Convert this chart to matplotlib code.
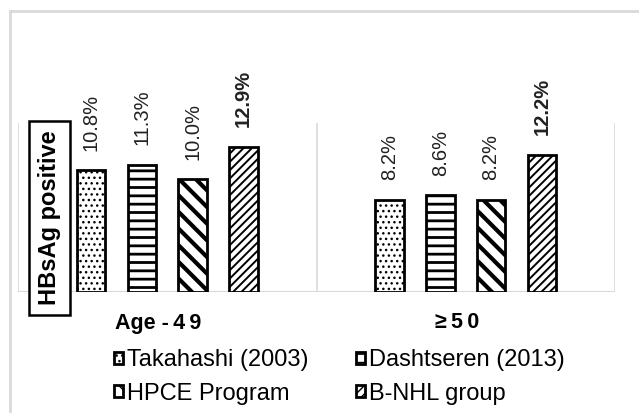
import numpy as np
import matplotlib
matplotlib.use("Agg")
import matplotlib.pyplot as plt
from matplotlib.lines import Line2D

plt.rcParams["font.family"] = ["Liberation Sans", "DejaVu Sans"]

groups = ["Age -\u20094\u20099", "≥\u20095\u20090"]
series = ["Takahashi (2003)", "Dashtseren (2013)", "HPCE Program", "B-NHL group"]
values = [
    [10.8, 8.2],
    [11.3, 8.6],
    [10.0, 8.2],
    [12.9, 12.2],
]
hatches = ["...", "--", "\\\\", "////"]
hatch_lw = [1.0, 2.0, 3.0, 1.4]

fig = plt.figure(figsize=(6.39, 4.13), dpi=100)
ax = fig.add_axes([18 / 639, 1 - 292 / 413, 597 / 639, 169 / 413])

x = np.array([0.5, 1.5])
step, width = 0.17, 0.095
bars = []
for i, (name, vals) in enumerate(zip(series, values)):
    with plt.rc_context({"hatch.linewidth": hatch_lw[i]}):
        b = ax.bar(x + (i - 1.5) * step, vals, width, color="white",
                   edgecolor="black", linewidth=2, hatch=hatches[i], label=name)
    for p in b:
        if hasattr(p, "set_hatch_linewidth"):
            p.set_hatch_linewidth(hatch_lw[i])
    bars.append(b)
    for xi, v in zip(x + (i - 1.5) * step, vals):
        ax.annotate(f"{v:.1f}%", (xi, v), xytext=(0, 14), textcoords="offset points",
                    rotation=90, ha="center", va="bottom", fontsize=14.5,
                    fontweight="bold" if i == 3 else "normal", color="#222222")

ax.set_xlim(0, 2)
ax.set_ylim(0, 15)
for s in ax.spines.values():
    s.set_visible(False)
ax.set_xticks([])
ax.set_yticks([])
grid = "#d9d9d9"
ax.axhline(0, color=grid, lw=1.5, zorder=0)
for xv in [0, 1, 2]:
    ax.axvline(xv, color=grid, lw=1.2, zorder=0)

# category labels, a little left of the group centres
for xc, g in zip(x - 0.03, groups):
    ax.annotate(g, (xc, 0), xytext=(0, -31), textcoords="offset pixels",
                ha="center", va="center", fontsize=15.5, fontweight="bold")

# boxed y label
fig.text(49.5 / 639, 1 - 218 / 413, "HBsAg positive", rotation=90, ha="center", va="center",
         fontsize=17, fontweight="bold",
         bbox=dict(boxstyle="square,pad=0.4", facecolor="white", edgecolor="black", lw=1.8))

handles = [bars[0], bars[2], bars[1], bars[3]]
labels = [series[0], series[2], series[1], series[3]]
fig.legend(handles, labels, ncol=2, loc="upper left", frameon=False,
           bbox_to_anchor=(114 / 639, 1 - 349 / 413), fontsize=17,
           handlelength=0.4, handleheight=0.4, handletextpad=0.15,
           columnspacing=2.0, labelspacing=0.5, borderpad=0, borderaxespad=0)

# outer frame
fig.add_artist(Line2D([9.5 / 639, 9.5 / 639], [0, 1 - 11 / 413], color="#d9d9d9", lw=2))
fig.add_artist(Line2D([9.5 / 639, 1], [1 - 11 / 413, 1 - 11 / 413], color="#d9d9d9", lw=2))

fig.savefig("out.png", dpi=100)
